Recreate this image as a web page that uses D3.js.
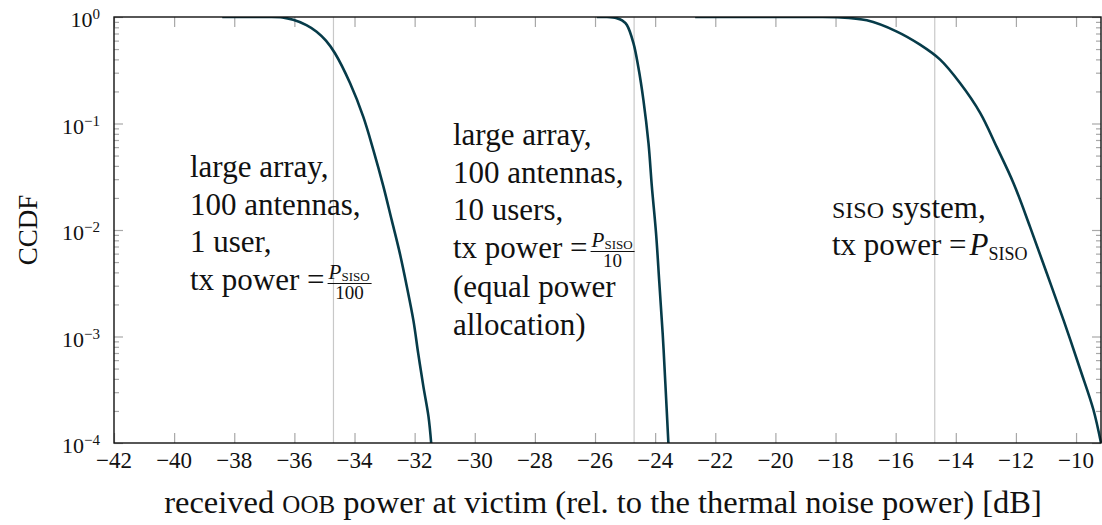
<!DOCTYPE html>
<html>
<head>
<meta charset="utf-8">
<script src="https://cdn.jsdelivr.net/npm/d3@7"></script>
<style>
  body { margin: 0; background: #fff; }
</style>
</head>
<body>
<div id="chart"></div>
<script>
// CCDF of received out-of-band power, three scenarios
var svgWidth = 1102;
var svgHeight = 525;

// x values (dB) and CCDF values
var oneUserX = [-38.4, -37, -36.4, -36.04, -35.6, -35.26, -34.95, -34.65, -34.15, -33.71, -33.37, -33.04, -32.76, -32.49, -32.26, -32.04, -31.88, -31.71, -31.54, -31.45];
var oneUserP = [1, 0.999, 0.99, 0.94, 0.84, 0.728, 0.6, 0.457, 0.24, 0.116, 0.056, 0.0257, 0.0123, 0.006, 0.00295, 0.00141, 0.00069, 0.00034, 0.000178, 0.0001];

var tenUsersX = [-25.94, -25.6, -25.28, -25.1, -24.94, -24.72, -24.56, -24.39, -24.22, -24.11, -23.97, -23.86, -23.75, -23.66, -23.56];
var tenUsersP = [1, 0.999, 0.975, 0.93, 0.841, 0.566, 0.339, 0.166, 0.0646, 0.0257, 0.0093, 0.00316, 0.00107, 0.00036, 0.0001];

var sisoX = [-22.67, -19, -17.96, -16.96, -15.96, -15.19, -14.52, -13.86, -13.19, -12.64, -12.08, -11.53, -10.97, -10.41, -9.86, -9.42, -9.17];
var sisoP = [1, 1, 0.995, 0.93, 0.73, 0.55, 0.398, 0.24, 0.126, 0.0603, 0.0275, 0.0107, 0.0039, 0.00141, 0.00049, 0.000204, 0.0001];

// vertical reference lines (mean received power)
var meanLines = [-34.7, -24.7, -14.7];

var xTicks = d3.range(-42, -9, 2);
var yMajor = [1e-4, 1e-3, 1e-2, 1e-1, 1];
var yExponents = ["−4", "−3", "−2", "−1", "0"];

var margin = { top: 17, right: 1, bottom: 82, left: 114 };
var width = svgWidth - margin.left - margin.right;
var height = svgHeight - margin.top - margin.bottom;

var svg = d3.select("#chart")
  .append("svg")
  .attr("width", svgWidth)
  .attr("height", svgHeight)
  .attr("font-family", "'Liberation Serif', serif")
  .attr("fill", "#111");

var chartGroup = svg.append("g")
  .attr("transform", `translate(${margin.left}, ${margin.top})`);

var xScale = d3.scaleLinear().domain([-42, -9.17]).range([0, width]);
var yScale = d3.scaleLog().domain([1e-4, 1]).range([height, 0]);

// minor y values 2..9 per decade
var yMinor = [];
yMajor.slice(0, 4).forEach(function(d) {
  for (var k = 2; k <= 9; k++) yMinor.push(d * k);
});

// gray mean lines
chartGroup.selectAll(".mean")
  .data(meanLines)
  .enter()
  .append("line")
  .attr("x1", d => xScale(d))
  .attr("x2", d => xScale(d))
  .attr("y1", 0)
  .attr("y2", height)
  .attr("stroke", "#c8c8c8")
  .attr("stroke-width", 1.2);

// tick marks (inward, on all four sides)
function tickStyle(g) {
  g.select(".domain").remove();
  g.selectAll("line").attr("stroke", "#a8a8a8").attr("stroke-width", 1.2);
  g.selectAll("text").remove();
}

chartGroup.append("g")
  .attr("transform", `translate(0, ${height})`)
  .call(d3.axisBottom(xScale).tickValues(xTicks).tickSize(-10))
  .call(tickStyle);
chartGroup.append("g")
  .call(d3.axisTop(xScale).tickValues(xTicks).tickSize(-10))
  .call(tickStyle);
chartGroup.append("g")
  .call(d3.axisLeft(yScale).tickValues(yMajor).tickSize(-9))
  .call(tickStyle);
chartGroup.append("g")
  .call(d3.axisLeft(yScale).tickValues(yMinor).tickSize(-5))
  .call(tickStyle);
chartGroup.append("g")
  .attr("transform", `translate(${width}, 0)`)
  .call(d3.axisRight(yScale).tickValues(yMajor).tickSize(-9))
  .call(tickStyle);
chartGroup.append("g")
  .attr("transform", `translate(${width}, 0)`)
  .call(d3.axisRight(yScale).tickValues(yMinor).tickSize(-5))
  .call(tickStyle);

// curves
var line = d3.line()
  .x(d => xScale(d[0]))
  .y(d => Math.max(0, yScale(d[1])))
  .curve(d3.curveCatmullRom.alpha(0.5));

svg.append("clipPath").attr("id", "plotClip")
  .append("rect").attr("x", -2).attr("y", 0).attr("width", width + 4).attr("height", height + 2);

[[oneUserX, oneUserP], [tenUsersX, tenUsersP], [sisoX, sisoP]].forEach(function(s) {
  chartGroup.append("path")
    .datum(d3.zip(s[0], s[1]))
    .attr("d", line)
    .attr("clip-path", "url(#plotClip)")
    .attr("fill", "none")
    .attr("stroke", "#063b49")
    .attr("stroke-width", 2.6)
    .attr("stroke-linejoin", "round");
});

// frame
chartGroup.append("rect")
  .attr("width", width)
  .attr("height", height)
  .attr("fill", "none")
  .attr("stroke", "#111")
  .attr("stroke-width", 1.4);

// x tick labels
chartGroup.selectAll(".xlab")
  .data(xTicks)
  .enter()
  .append("text")
  .attr("x", d => xScale(d))
  .attr("y", height + 25)
  .attr("text-anchor", "middle")
  .attr("font-size", 23)
  .text(d => "−" + Math.abs(d));

// y tick labels 10^k
var yLab = chartGroup.selectAll(".ylab")
  .data(yMajor)
  .enter()
  .append("text")
  .attr("x", -14)
  .attr("y", d => yScale(d) + 10)
  .attr("text-anchor", "end")
  .attr("font-size", 22);
yLab.append("tspan").text("10");
yLab.append("tspan")
  .attr("dy", -8)
  .attr("font-size", 15)
  .text((d, i) => yExponents[i]);

// axis titles
svg.append("text")
  .attr("x", 603)
  .attr("y", 513)
  .attr("text-anchor", "middle")
  .attr("font-size", 32.5)
  .html('received <tspan font-size="25">OOB</tspan> power at victim (rel. to the thermal noise power) [dB]');

svg.append("text")
  .attr("transform", "translate(37, 230) rotate(-90)")
  .attr("text-anchor", "middle")
  .attr("font-size", 27)
  .text("CCDF");

// annotations
function annotate(x, y0, lines, fraction) {
  var lh = 37.5;
  lines.forEach(function(t, i) {
    // lines below the fraction row get a little extra room
    var extra = (fraction && i > fraction.row) ? 2 : 0;
    svg.append("text")
      .attr("x", x)
      .attr("y", y0 + i * lh + extra)
      .attr("font-size", 31)
      .text(t);
  });
  if (fraction) {
    var by = y0 + fraction.row * lh;
    var el = svg.append("text")
      .attr("x", x)
      .attr("y", by)
      .attr("font-size", 31)
      .text("tx power =");
    var fx = x + el.node().getComputedTextLength() + 3;
    if (fraction.den) {
      var num = svg.append("text")
        .attr("x", fx + 1)
        .attr("y", by - 11)
        .attr("font-size", 21);
      num.append("tspan").attr("font-style", "italic").text("P");
      num.append("tspan").attr("font-size", 13).attr("dy", 2).text("SISO");
      var fw = num.node().getComputedTextLength() + 3;
      svg.append("line")
        .attr("x1", fx).attr("x2", fx + fw)
        .attr("y1", by - 6).attr("y2", by - 6)
        .attr("stroke", "#111").attr("stroke-width", 1);
      svg.append("text")
        .attr("x", fx + fw / 2)
        .attr("y", by + 9)
        .attr("text-anchor", "middle")
        .attr("font-size", 19)
        .text(fraction.den);
    } else {
      var p = svg.append("text")
        .attr("x", fx)
        .attr("y", by)
        .attr("font-size", 31);
      p.append("tspan").attr("font-style", "italic").text("P");
      p.append("tspan").attr("font-size", 18).attr("dy", 5).text("SISO");
    }
  }
}

annotate(190, 177, ["large array,", "100 antennas,", "1 user,"], { row: 3, den: "100" });
annotate(453, 145, ["large array,", "100 antennas,", "10 users,", "", "(equal power", "allocation)"], { row: 3, den: "10" });

var siso = svg.append("text")
  .attr("x", 832)
  .attr("y", 218)
  .attr("font-size", 31);
siso.append("tspan").attr("font-size", 24).text("SISO");
siso.append("tspan").text(" system,");
annotate(832, 255, [], { row: 0 });
</script>
</body>
</html>
